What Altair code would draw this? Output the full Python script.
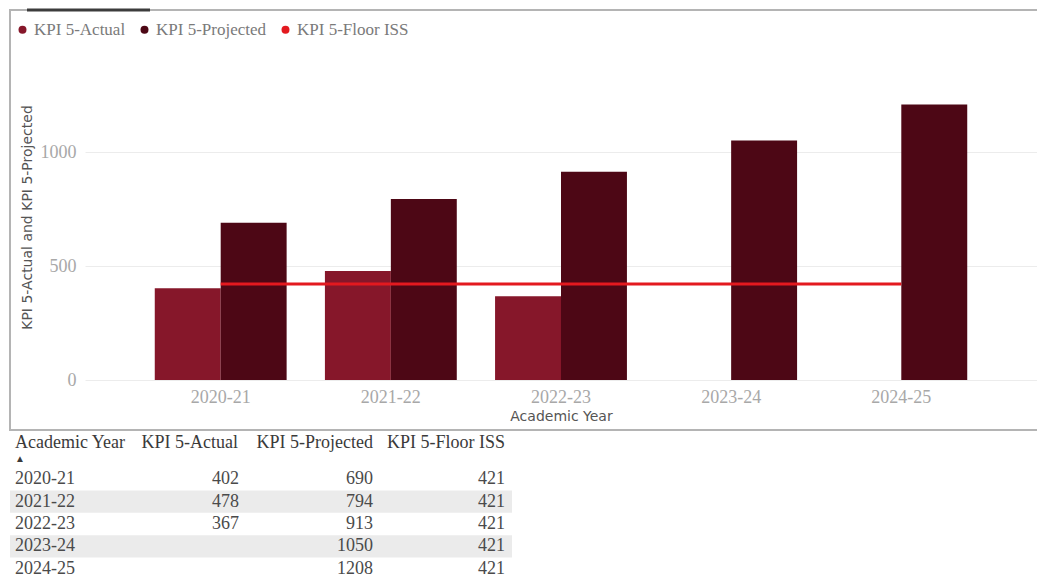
import altair as alt
import pandas as pd

years = ["2020-21", "2021-22", "2022-23", "2023-24", "2024-25"]
actual = [402, 478, 367, None, None]
projected = [690, 794, 913, 1050, 1208]
floor_iss = [421, 421, 421, 421, 421]
series = ["KPI 5-Actual", "KPI 5-Projected", "KPI 5-Floor ISS"]
colors = ["#86172a", "#4d0715", "#e3191f"]
table_headers = ["Academic Year", "KPI 5-Actual", "KPI 5-Projected", "KPI 5-Floor ISS"]
y_title = "KPI 5-Actual and KPI 5-Projected"
x_title = "Academic Year"

SERIF = "Liberation Serif"
SANS = "DejaVu Sans"

wide = pd.DataFrame({
    "Year": years,
    "Actual": actual,
    "Projected": projected,
    "Floor": floor_iss,
    "Stripe": [i % 2 == 1 for i in range(len(years))],
})
long = pd.DataFrame({
    "Year": years * 2,
    "Series": [series[0]] * len(years) + [series[1]] * len(years),
    "Value": actual + projected,
}).dropna()
one = pd.DataFrame({"k": [0]})

x_enc = alt.X(
    "Year:N", sort=years,
    scale=alt.Scale(domain=years, paddingInner=0.225, paddingOuter=0.41),
    axis=alt.Axis(title=x_title, labelAngle=0, labelFont=SERIF, labelFontSize=18,
                  labelColor="#a8a8a8", labelPadding=8, ticks=False, domain=False,
                  grid=False, titleFont=SANS, titleFontSize=14, titleColor="#555555",
                  titleFontWeight="normal", titlePadding=3),
)
y_axis = alt.Axis(title=y_title, values=[0, 500, 1000], format="d", labelFont=SERIF,
                  labelFontSize=18, labelColor="#a8a8a8", labelPadding=9, ticks=False,
                  domain=False, grid=True, gridColor="#ececec", titleFont=SANS,
                  titleFontSize=14, titleColor="#555555", titleFontWeight="normal",
                  titlePadding=6, titleY=122)
y_scale = alt.Scale(domain=[0, 1250], nice=False)

bars = alt.Chart(long).mark_bar().encode(
    x=x_enc,
    xOffset=alt.XOffset("Series:N", scale=alt.Scale(domain=series[:2], paddingInner=0, paddingOuter=0)),
    y=alt.Y("Value:Q", scale=y_scale, axis=y_axis),
    color=alt.Color(
        "Series:N",
        scale=alt.Scale(domain=series, range=colors),
        legend=alt.Legend(
            title=None, orient="none", legendX=-71, legendY=-74, direction="horizontal",
            symbolType="circle", symbolSize=64, symbolStrokeWidth=0, labelFont=SERIF,
            labelFontSize=17, labelColor="#7a7a7a", columnPadding=10, labelOffset=3, padding=0,
        ),
    ),
)

line = alt.Chart(wide).mark_line(color=colors[2], strokeWidth=3).encode(
    x=alt.X("Year:N", sort=years),
    y=alt.Y("Floor:Q", scale=y_scale, axis=y_axis),
)

plot = alt.layer(bars, line)

# frame and header decoration
frame = alt.Chart(one).mark_rect(filled=False, stroke="#b4b4b4", strokeWidth=2).encode(
    x=alt.value(-75), x2=alt.value(970), y=alt.value(-85), y2=alt.value(335)
)
head_line = alt.Chart(one).mark_rule(color="#3c3c3c", strokeWidth=3).encode(
    x=alt.value(-58), x2=alt.value(65), y=alt.value(-85)
)

# table below the chart
row_y = alt.Y("Year:N", sort=years,
              scale=alt.Scale(domain=years, range=[373, 485], paddingInner=0, paddingOuter=0),
              axis=None)
stripes = alt.Chart(wide).mark_rect(color="#ebebeb").encode(
    y=row_y, x=alt.value(-75), x2=alt.value(427)
).transform_filter("datum.Stripe")

cell = dict(font=SERIF, fontSize=18, color="#4a4a4a", baseline="middle")
col_year = alt.Chart(wide).mark_text(align="left", **cell).encode(
    x=alt.value(-70), y=row_y, text="Year:N")
col_act = alt.Chart(wide).mark_text(align="right", **cell).encode(
    x=alt.value(154), y=row_y, text=alt.Text("Actual:Q", format="d")
).transform_filter("isValid(datum.Actual)")
col_proj = alt.Chart(wide).mark_text(align="right", **cell).encode(
    x=alt.value(288), y=row_y, text=alt.Text("Projected:Q", format="d"))
col_floor = alt.Chart(wide).mark_text(align="right", **cell).encode(
    x=alt.value(420), y=row_y, text=alt.Text("Floor:Q", format="d"))

hdr = dict(font=SERIF, fontSize=18, color="#3a3a3a", baseline="middle")
h_positions = [(-70, "left"), (153, "right"), (288, "right"), (420, "right")]
headers = [
    alt.Chart(one).mark_text(text=t, align=a, **hdr).encode(x=alt.value(px), y=alt.value(348))
    for t, (px, a) in zip(table_headers, h_positions)
]
arrow = alt.Chart(one).mark_text(text="▲", align="left", baseline="middle", fontSize=10,
                                 color="#3a3a3a").encode(x=alt.value(-70), y=alt.value(364))

table = alt.layer(stripes, col_year, col_act, col_proj, col_floor, *headers, arrow)

chart = alt.layer(frame, head_line, plot, table).resolve_scale(y="independent").properties(
    width=952, height=285,
    padding={"left": 85, "top": 95, "right": 0, "bottom": 198},
    autosize=alt.AutoSizeParams(type="none"),
    background="white",
).configure_view(stroke=None)

chart.save("out.html", embed_options={"renderer": "svg", "actions": False})
